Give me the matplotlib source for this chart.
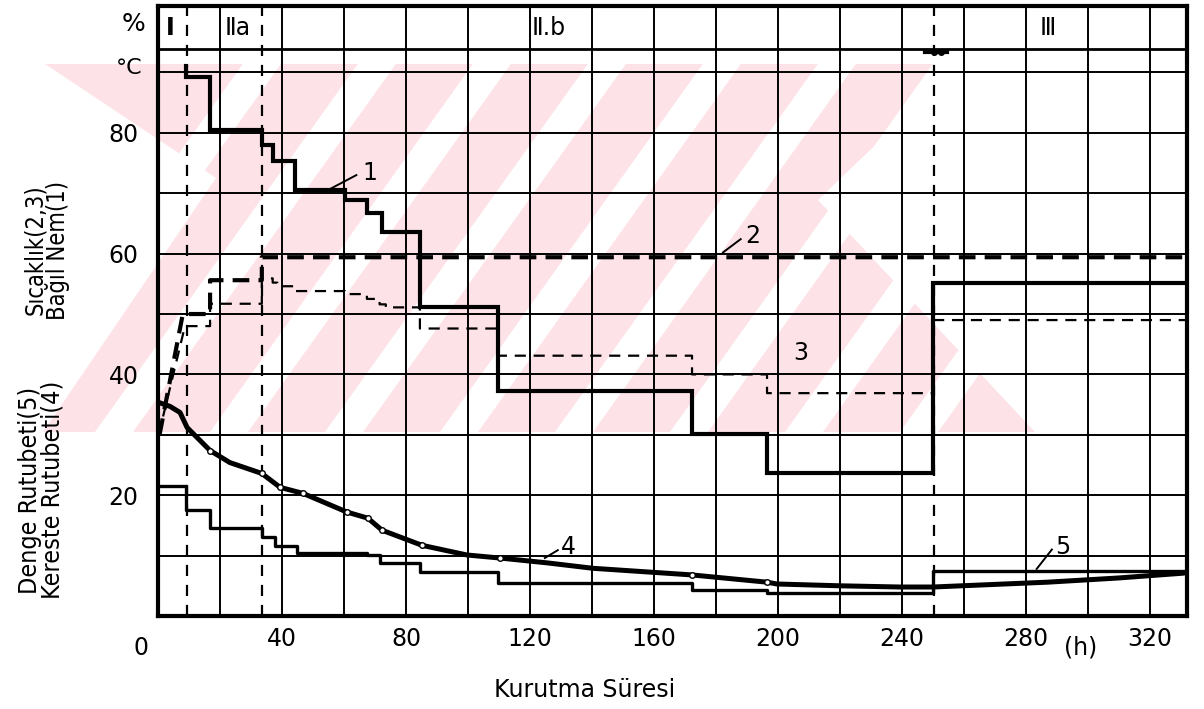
import matplotlib
matplotlib.use("Agg")
import matplotlib.pyplot as plt
from matplotlib.patches import Polygon

plt.rcParams['font.family'] = ['DejaVu Sans']

# ---------------- data ----------------
# Curve 1: relative humidity (%), solid step line (value after each change point)
rh_x = [9.0, 9.0, 16.8, 33.5, 37.1, 44.2, 60.3, 67.4, 72.3, 84.5, 109.7, 172.3, 196.5, 250.0, 332.0]
rh_y = [91.0, 89.3, 80.5, 78.0, 75.3, 70.5, 68.8, 66.8, 63.6, 51.2, 37.3, 30.2, 23.7, 55.2, 55.2]

# Curve 2: dry-bulb temperature (°C), thick dashed (first segment is a ramp)
t_x = [0.5, 8.0, 16.8, 33.5, 332.0]
t_y = [30.0, 50.0, 55.6, 59.4, 59.4]

# Curve 3: wet-bulb temperature (°C), thin dashed (first segment is a ramp)
tw_x = [0.2, 8.7, 16.8, 33.5, 37.0, 38.5, 44.0, 60.3, 67.4, 71.5, 73.5, 84.5, 109.7, 172.3, 196.5, 250.0, 332.0]
tw_y = [30.0, 48.0, 51.7, 55.9, 55.2, 54.6, 53.8, 53.3, 52.5, 51.6, 51.1, 47.6, 43.1, 40.0, 36.9, 49.0, 49.0]

# Curve 4: timber moisture content (%), smooth thick line
mc_x = [0, 3.9, 7.1, 9.4, 16.8, 23.2, 33.5, 39.4, 46.8, 61.0, 67.7, 72.3, 85.2, 99.7, 110.3,
        125.5, 140.3, 172.3, 196.5, 199.7, 220.0, 239.4, 250.0, 287.0, 310.0, 331.0]
mc_y = [35.4, 34.7, 33.7, 31.2, 27.4, 25.4, 23.6, 21.3, 20.3, 17.2, 16.2, 14.2, 11.7, 10.1, 9.6,
        8.8, 7.9, 6.8, 5.6, 5.3, 5.0, 4.8, 4.8, 5.6, 6.3, 7.1]
mc_marked = [4, 6, 7, 8, 9, 10, 11, 12, 14, 17, 18]

# Curve 5: equilibrium moisture content (%), solid step line
emc_x = [0.0, 9.0, 16.8, 33.5, 37.6, 44.8, 67.4, 71.6, 84.5, 109.7, 172.3, 196.5, 250.0, 332.0]
emc_y = [21.6, 17.5, 14.5, 13.1, 11.6, 10.4, 10.1, 8.8, 7.3, 5.5, 4.3, 3.8, 7.5, 7.4]

# phase boundaries and labels
phase_bounds = [9.3, 33.5, 250.3]
phase_labels = ["Ⅰ", "Ⅱa", "Ⅱ.b", "Ⅲ"]
phase_label_x = [3.9, 21.6, 120.5, 284.6]

x_ticks = [40, 80, 120, 160, 200, 240, 280, 320]
y_ticks = [20, 40, 60, 80]

curve_tags = ["1", "2", "3", "4", "5"]

# background watermark of the scanned page (figure pixel coordinates)
wm_outline = [(45, 64), (960, 64), (818, 200), (1035, 432), (43, 432), (216, 178)]
wm_top, wm_bottom = 64, 432
wm_stripe_starts = [-20, 95, 210, 325, 440, 555, 670, 785, 900]   # x of stripe at bottom edge
wm_stripe_width = 38
wm_stripe_slope = 1.4


def ramp_then_step(xs, ys):
    """first segment straight, then post-steps"""
    px = [xs[0], xs[1]]
    py = [ys[0], ys[1]]
    for i in range(2, len(xs)):
        px += [xs[i], xs[i]]
        py += [ys[i - 1], ys[i]]
    return px, py


def post_step(xs, ys):
    px, py = [xs[0]], [ys[0]]
    for i in range(1, len(xs)):
        px += [xs[i], xs[i]]
        py += [ys[i - 1], ys[i]]
    return px, py


W, H = 1204, 709
fig = plt.figure(figsize=(W / 100, H / 100), dpi=100)
fig.patch.set_facecolor("white")


def to_fig(pts):
    return [(px / W, 1 - py / H) for px, py in pts]


wm = Polygon(to_fig(wm_outline), closed=True, transform=fig.transFigure,
             facecolor="#fde3e8", edgecolor="none", zorder=-5)
fig.patches.append(wm)
dxs = (wm_bottom - wm_top) / wm_stripe_slope
for sx in wm_stripe_starts:
    stripe = [(sx, wm_bottom), (sx + wm_stripe_width, wm_bottom),
              (sx + wm_stripe_width + dxs, wm_top), (sx + dxs, wm_top)]
    fig.patches.append(Polygon(to_fig(stripe), closed=True, transform=fig.transFigure,
                               facecolor="white", edgecolor="none", zorder=-4))

ax = fig.add_axes([158 / W, 1 - 616 / H, (1187 - 158) / W, (616 - 6) / H])
ax.set_zorder(2)
ax.set_xlim(0, 332)
ax.set_ylim(0, 101)
ax.set_facecolor("none")

# grid
for gx in range(20, 332, 20):
    ax.axvline(gx, color="black", lw=1.4, zorder=1)
for gy in range(10, 100, 10):
    ax.axhline(gy, color="black", lw=1.4, zorder=1)
ax.axhline(93.9, color="black", lw=2.0, zorder=1)
for bx in phase_bounds:
    ax.axvline(bx, color="black", lw=1.6, ls=(0, (5, 4)), zorder=1)

# header labels
for lab, lx in zip(phase_labels, phase_label_x):
    ax.text(lx, 97.3, lab, fontsize=17, ha="left" if lab != "Ⅰ" else "center",
            va="center", color="black", fontweight="bold" if lab == "Ⅰ" else "normal")
ax.plot([247.5, 254.5], [93.4, 93.4], color="black", lw=3, zorder=3)
ax.plot([250.3, 252.6], [93.4, 93.4], ls="none", marker="o", ms=4, color="black", zorder=3)

# curves
x1, y1 = post_step(rh_x, rh_y)
ax.plot(x1, y1, color="black", lw=3.0, solid_joinstyle="miter", zorder=4)

x2, y2 = ramp_then_step(t_x, t_y)
ax.plot(x2, y2, color="black", lw=3.0, ls=(0, (4, 2.2)), zorder=4)

x3, y3 = ramp_then_step(tw_x, tw_y)
ax.plot(x3, y3, color="black", lw=1.6, ls=(0, (5, 3.5)), zorder=4)

ax.plot(mc_x, mc_y, color="black", lw=3.6, zorder=4, solid_capstyle="round",
        marker="o", ms=4, mfc="white", mec="black", mew=1.0, markevery=mc_marked)

x5, y5 = post_step(emc_x, emc_y)
ax.plot(x5, y5, color="black", lw=2.4, zorder=4)

# curve tags with leader lines
tag_pos = [(66.0, 73.4), (189.5, 63.0), (205.0, 43.6), (130.0, 11.4), (289.5, 11.4)]
lead_from = [(55.5, 70.7), (182.3, 60.2), None, (124.8, 9.6), (283.5, 7.8)]
lead_to = [(64.0, 73.0), (188.0, 62.4), None, (129.0, 10.9), (288.4, 11.0)]
for tag, (tx, ty), a, b in zip(curve_tags, tag_pos, lead_from, lead_to):
    ax.text(tx, ty, tag, fontsize=17, ha="left", va="center")
    if a is not None:
        ax.plot([a[0], b[0]], [a[1], b[1]], color="black", lw=1.4, zorder=4)

# spines
for s in ax.spines.values():
    s.set_linewidth(3.0)
    s.set_color("black")

# ticks
ax.set_xticks(x_ticks)
ax.set_xticklabels([str(v) for v in x_ticks], fontsize=17)
ax.set_yticks(y_ticks)
ax.set_yticklabels([str(v) for v in y_ticks], fontsize=17)
ax.tick_params(length=0, pad=14)
ax.tick_params(axis="x", pad=8)
ax.text(-5.5, -3.3, "0", fontsize=17, ha="center", va="top")
ax.text(297.7, -3.3, "(h)", fontsize=17, ha="center", va="top")
ax.text(-5.0, 90.7, "°C", fontsize=16, ha="right", va="center")
ax.text(-4.0, 98.0, "%", fontsize=18, ha="right", va="center")

# axis titles
fig.text(47 / W, 1 - 250 / H, "Sıcaklık(2,3)\nBağıl Nem(1)", rotation=90,
         ha="center", va="center", fontsize=17, linespacing=0.9, fontstretch="condensed")
fig.text(41 / W, 1 - 490 / H, "Denge Rutubeti(5)\nKereste Rutubeti(4)", rotation=90,
         ha="center", va="center", fontsize=18, linespacing=0.9, fontstretch="condensed")
fig.text(585 / W, 1 - 690 / H, "Kurutma Süresi", ha="center", va="center", fontsize=17)

fig.savefig("out.png", dpi=100)
